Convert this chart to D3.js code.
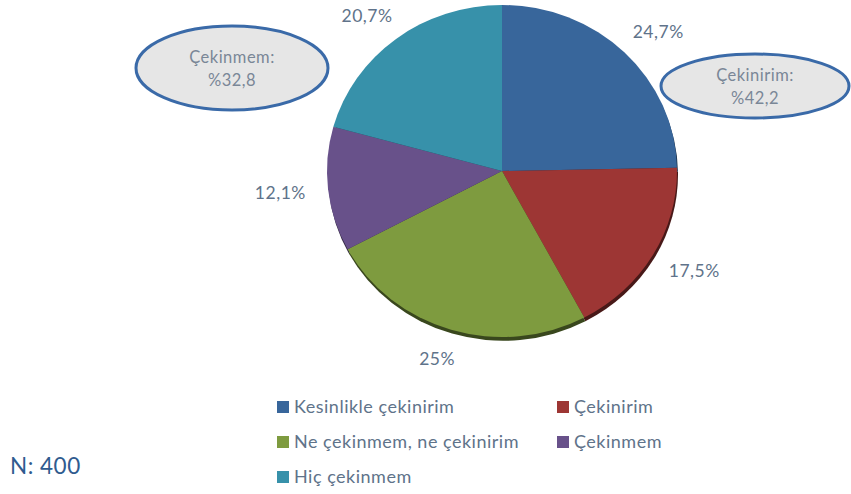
<!DOCTYPE html>
<html>
<head>
<meta charset="utf-8">
<script src="https://cdn.jsdelivr.net/npm/d3@7"></script>
<style>
  body { margin: 0; background: #fff; }
  svg { display: block; font-family: Lato, "Open Sans", sans-serif; }
</style>
</head>
<body>
<div id="chart"></div>
<script>
// Answers and their shares (%)
const categories = ["Kesinlikle çekinirim", "Çekinirim", "Ne çekinmem, ne çekinirim", "Çekinmem", "Hiç çekinmem"];
const values = [24.7, 17.5, 25, 12.1, 20.7];
const valueLabels = ["24,7%", "17,5%", "25%", "12,1%", "20,7%"];
const colors = ["#38669B", "#9D3634", "#7E9B3F", "#68518A", "#3791AA"];

// Summary callouts
const calloutTitles = ["Çekinmem:", "Çekinirim:"];
const calloutValues = ["%32,8", "%42,2"];
const sampleLabel = "N: 400";

const width = 851;
const height = 494;

const svg = d3.select("#chart")
  .append("svg")
  .attr("width", width)
  .attr("height", height);

// Pie is drawn a little flattened, like the original
const cx = 502, cy = 171;
const radius = 175;
const flat = 166 / 175;

const pie = d3.pie().sort(null).value(d => d);
const arcs = pie(values);
const arc = d3.arc().innerRadius(0).outerRadius(radius);

const g = svg.append("g")
  .attr("transform", `translate(${cx},${cy}) scale(1,${flat})`);

// Dark rim under the lower edge
g.selectAll("path.shadow")
  .data(arcs)
  .enter().append("path")
  .attr("class", "shadow")
  .attr("d", arc)
  .attr("transform", "translate(1,4)")
  .attr("fill", (d, i) => d3.color(colors[i]).darker(2.2));

g.selectAll("path.slice")
  .data(arcs)
  .enter().append("path")
  .attr("class", "slice")
  .attr("d", arc)
  .attr("fill", (d, i) => colors[i]);

// Value labels sitting just outside the pie
const labelR = 196;
const boxW = 54, boxH = 20;
svg.append("g").selectAll("text")
  .data(arcs)
  .enter().append("text")
  .attr("x", d => {
    const a = (d.startAngle + d.endAngle) / 2;
    return cx + Math.sin(a) * labelR + Math.sin(a) * boxW / 2;
  })
  .attr("y", d => {
    const a = (d.startAngle + d.endAngle) / 2;
    return cy - Math.cos(a) * labelR * flat - Math.cos(a) * boxH / 2;
  })
  .attr("text-anchor", "middle")
  .attr("dominant-baseline", "central")
  .attr("font-size", 17.5)
  .attr("letter-spacing", 0.5)
  .attr("fill", "#60738A")
  .text((d, i) => valueLabels[i]);

// Callout ellipses
const callouts = [
  { x: 232, y: 68, rx: 96, ry: 42 },
  { x: 755, y: 86, rx: 94, ry: 32 }
];
callouts.forEach((c, i) => {
  svg.append("ellipse")
    .attr("cx", c.x).attr("cy", c.y)
    .attr("rx", c.rx).attr("ry", c.ry)
    .attr("fill", "#E6E6E6")
    .attr("stroke", "#3A6AA8")
    .attr("stroke-width", 3);
  const t = svg.append("text")
    .attr("x", c.x)
    .attr("text-anchor", "middle")
    .attr("font-size", 16.5)
    .attr("letter-spacing", 0.5)
    .attr("fill", "#7A8797");
  t.append("tspan").attr("x", c.x).attr("y", c.y - 5).text(calloutTitles[i]);
  t.append("tspan").attr("x", c.x).attr("y", c.y + 18).text(calloutValues[i]);
});

// Legend, two columns
const legend = svg.append("g").attr("transform", "translate(277,401)");
const colX = [0, 280];
const rowH = 35;
const items = legend.selectAll("g")
  .data(categories)
  .enter().append("g")
  .attr("transform", (d, i) => `translate(${colX[i % 2]},${Math.floor(i / 2) * rowH})`);
items.append("rect")
  .attr("width", 12).attr("height", 12)
  .attr("fill", (d, i) => colors[i]);
items.append("text")
  .attr("x", 17)
  .attr("y", 12)
  .attr("font-size", 18)
  .attr("letter-spacing", 0.5)
  .attr("fill", "#60738A")
  .text(d => d);

svg.append("text")
  .attr("x", 10)
  .attr("y", 474)
  .attr("font-size", 22.5)
  .attr("letter-spacing", 0.5)
  .attr("fill", "#2F5B8F")
  .text(sampleLabel);
</script>
</body>
</html>
